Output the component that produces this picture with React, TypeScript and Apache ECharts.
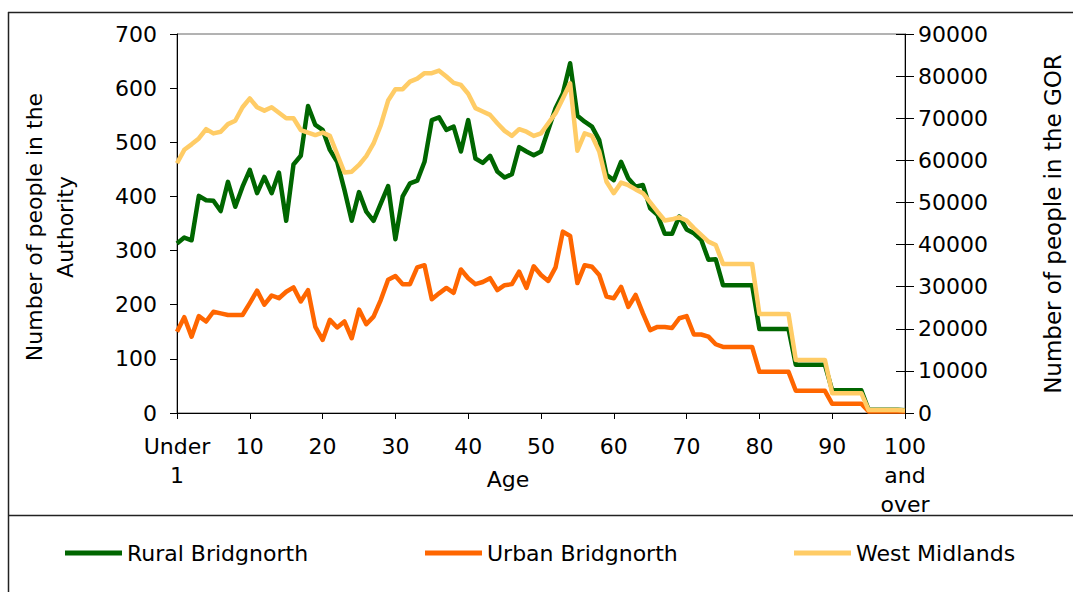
import React, { useEffect, useRef } from "react";
import * as echarts from "echarts";

const FONT = "DejaVu Sans";

const ageLabels: string[] = ["Under 1"];
for (let i = 1; i < 100; i++) ageLabels.push(String(i));
ageLabels.push("100 and over");

const ruralBridgnorth = [
  313, 324, 319, 401, 393, 392, 373, 427, 381, 418,
  449, 406, 436, 406, 444, 355, 459, 475, 567, 532,
  523, 486, 464, 412, 355, 408, 372, 355, 387, 419,
  321, 400, 424, 429, 464, 541, 546, 523, 529, 483,
  541, 470, 462, 475, 446, 435, 441, 491, 483, 476,
  483, 523, 563, 590, 646, 549, 538, 529, 504, 440,
  430, 464, 433, 418, 421, 378, 366, 331, 331, 363,
  339, 332, 320, 283, 284, 236, 236, 236, 236, 236,
  155, 155, 155, 155, 155, 89, 89, 89, 89, 89,
  42, 42, 42, 42, 42, 6, 6, 6, 6, 6,
  5,
];

const urbanBridgnorth = [
  150, 177, 141, 179, 169, 187, 184, 181, 181, 181,
  203, 226, 200, 217, 212, 224, 232, 206, 227, 159,
  135, 172, 158, 169, 138, 191, 164, 178, 209, 246,
  253, 238, 238, 269, 273, 210, 221, 231, 222, 265,
  249, 238, 242, 249, 227, 236, 238, 261, 231, 271,
  255, 244, 269, 335, 327, 240, 273, 270, 255, 215,
  212, 233, 196, 218, 184, 153, 159, 159, 157, 175,
  179, 145, 145, 141, 127, 122, 122, 122, 122, 122,
  76, 76, 76, 76, 76, 41, 41, 41, 41, 41,
  17, 17, 17, 17, 17, 3, 3, 3, 3, 3,
  3,
];

const westMidlands = [
  59300, 62500, 63800, 65200, 67400, 66400, 66800, 68600, 69400, 72600,
  74700, 72600, 71800, 72600, 71300, 70000, 70000, 67200, 66600, 66000,
  66600, 65800, 61500, 57100, 57300, 58900, 61000, 64000, 68400, 74200,
  76900, 76900, 78700, 79400, 80700, 80700, 81300, 79900, 78400, 77900,
  75800, 72400, 71600, 70800, 68800, 67000, 65800, 67400, 66800, 65800,
  66400, 68800, 71200, 74700, 78300, 62300, 66400, 65800, 62100, 54900,
  52200, 54700, 54100, 53100, 52200, 50000, 47800, 45700, 46000, 46500,
  45700, 43900, 42300, 40700, 39900, 35400, 35400, 35400, 35400, 35400,
  23500, 23500, 23500, 23500, 23500, 12600, 12600, 12600, 12600, 12600,
  4700, 4700, 4700, 4700, 4700, 700, 700, 700, 700, 700,
  600,
];

const seriesNames = ["Rural Bridgnorth", "Urban Bridgnorth", "West Midlands"];
const seriesColors = ["#006600", "#FF6600", "#FFCC66"];

const FS = 22;

function xLabel(v: string) {
  if (v === "Under 1") return "Under\n1";
  if (v === "100 and over") return "100\nand\nover";
  return v;
}

export default function App() {
  const ref = useRef<HTMLDivElement>(null);
  useEffect(() => {
    if (!ref.current) return;
    const chart = echarts.init(ref.current, null, { renderer: "svg" });
    const black = { color: "#000", width: 1 };
    const legendLefts = [60, 420, 789];
    const option: any = {
      animation: false,
      backgroundColor: "#fff",
      textStyle: { fontFamily: FONT, color: "#000" },
      grid: {
        left: 177,
        right: 168,
        top: 34,
        bottom: 179,
        show: true,
        borderColor: "#666",
        borderWidth: 1,
        containLabel: false,
        outerBoundsMode: "none",
      },
      legend: seriesNames.map((n, i) => ({
        data: [n],
        left: legendLefts[i],
        top: 537,
        icon: "rect",
        itemWidth: 57,
        itemHeight: 5,
        textStyle: { fontFamily: FONT, fontSize: FS, color: "#000" },
        selectedMode: false,
      })),
      xAxis: {
        type: "category",
        data: ageLabels,
        boundaryGap: false,
        axisLine: { lineStyle: black },
        axisTick: { interval: 9, length: 6, lineStyle: black },
        axisLabel: {
          interval: 9,
          margin: 19,
          fontSize: FS,
          lineHeight: 29,
          color: "#000",
          fontFamily: FONT,
          formatter: xLabel,
        },
        splitLine: { show: false },
      },
      yAxis: [
        {
          type: "value",
          position: "left",
          min: 0,
          max: 700,
          interval: 100,
          axisLine: { show: true, lineStyle: black },
          axisTick: { show: true, length: 7, lineStyle: black },
          axisLabel: { margin: 20, fontSize: FS, color: "#000", fontFamily: FONT },
          splitLine: { show: false },
        },
        {
          type: "value",
          position: "right",
          min: 0,
          max: 90000,
          interval: 10000,
          axisLine: { show: true, lineStyle: black },
          axisTick: { show: true, length: 9, lineStyle: black },
          axisLabel: {
            margin: 13,
            fontSize: FS,
            color: "#000",
            fontFamily: FONT,
            formatter: (v: number) => String(v),
          },
          splitLine: { show: false },
        },
        {
          type: "value",
          position: "right",
          min: 0,
          max: 90000,
          interval: 10000,
          axisLine: { show: false },
          axisTick: { show: true, inside: true, length: 9, lineStyle: black },
          axisLabel: { show: false },
          splitLine: { show: false },
        },
      ],
      series: [
        { data: ruralBridgnorth, yAxisIndex: 0 },
        { data: urbanBridgnorth, yAxisIndex: 0 },
        { data: westMidlands, yAxisIndex: 1 },
      ].map((s, i) => ({
        name: seriesNames[i],
        type: "line",
        data: s.data,
        yAxisIndex: s.yAxisIndex,
        symbol: "none",
        showSymbol: false,
        lineStyle: { width: 4.5, color: seriesColors[i], join: "round" },
        itemStyle: { color: seriesColors[i] },
        z: 2 + i,
      })),
      graphic: [
        { type: "line", shape: { x1: 8, y1: 12.5, x2: 1073, y2: 12.5 }, style: { stroke: "#222", lineWidth: 1.5 } },
        { type: "line", shape: { x1: 8.5, y1: 12, x2: 8.5, y2: 592 }, style: { stroke: "#222", lineWidth: 1.5 } },
        { type: "line", shape: { x1: 8, y1: 515.5, x2: 1073, y2: 515.5 }, style: { stroke: "#222", lineWidth: 1.5 } },
        {
          type: "text",
          x: 50,
          y: 227,
          rotation: Math.PI / 2,
          style: {
            text: "Number of people in the\nAuthority",
            fontFamily: FONT,
            fontSize: FS,
            lineHeight: 31,
            fill: "#000",
            align: "center",
            verticalAlign: "middle",
          },
        },
        {
          type: "text",
          x: 1053,
          y: 224,
          rotation: Math.PI / 2,
          style: {
            text: "Number of people in the GOR",
            fontFamily: FONT,
            fontSize: 23,
            fill: "#000",
            align: "center",
            verticalAlign: "middle",
          },
        },
        {
          type: "text",
          x: 508,
          y: 479,
          style: {
            text: "Age",
            fontFamily: FONT,
            fontSize: FS,
            fill: "#000",
            align: "center",
            verticalAlign: "middle",
          },
        },
      ],
    };
    chart.setOption(option);
    return () => chart.dispose();
  }, []);
  return (
    <div
      ref={ref}
      style={{ position: "fixed", left: 0, top: 0, width: 1073, height: 592, background: "#fff" }}
    />
  );
}
